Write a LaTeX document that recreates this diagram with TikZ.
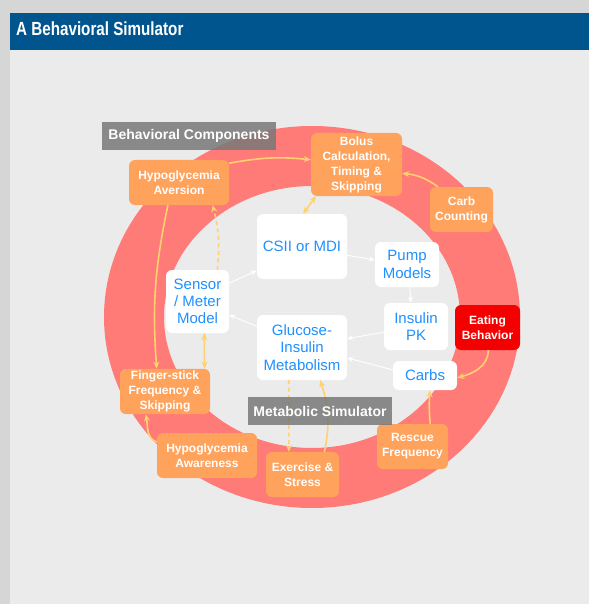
\documentclass[tikz,border=0pt]{standalone}
\usepackage{fontspec}
\setmainfont{Liberation Sans}
\newfontfamily\headfont[FakeStretch=0.8]{Liberation Sans}
\usepackage{tikz}
\usetikzlibrary{arrows.meta}
\definecolor{page}{HTML}{D6D6D6}
\definecolor{panel}{HTML}{EBEBEB}
\definecolor{banner}{HTML}{00558F}
\definecolor{ring}{HTML}{FF7B77}
\definecolor{behav}{HTML}{FFA25C}
\definecolor{eatred}{HTML}{F50000}
\definecolor{simtext}{HTML}{1E90FF}
\definecolor{link}{HTML}{FFD170}
\definecolor{tagfill}{HTML}{787878}

\begin{document}
\begin{tikzpicture}[x=1pt,y=-1pt,
  beh/.style={rectangle,rounded corners=6pt,fill=behav,text=white,align=center,
    inner sep=2pt,font=\bfseries\fontsize{12}{15}\selectfont},
  sim/.style={rectangle,rounded corners=6pt,fill=white,text=simtext,align=center,
    inner sep=2pt,font=\fontsize{15}{17.3}\selectfont},
  tag/.style={rectangle,fill=tagfill,fill opacity=0.85,text opacity=1,text=white,
    inner sep=0pt,font=\bfseries\fontsize{14}{16}\selectfont},
  arr/.style={-{Stealth[length=6pt,width=5pt]},white,line width=0.9pt},
  yarr/.style={-{Stealth[length=7pt,width=6pt]},link,line width=1.6pt},
  ydbl/.style={yarr,{Stealth[length=7pt,width=6pt]}-{Stealth[length=7pt,width=6pt]}},
  darr/.style={yarr,dash pattern=on 4pt off 3.5pt}]

% page, panel and title bar
\fill[page] (0,0) rectangle (589,604);
\fill[panel] (10,50) rectangle (589,604);
\fill[banner] (10,13) rectangle (589,50);
\node[anchor=base west,inner sep=0pt,text=white,font=\headfont\bfseries\fontsize{19}{20}\selectfont]
  (ttl) at (16,35.3) {A Behavioral Simulator};

% behaviour ring
\draw[ring,line width=60pt] (312,317) ellipse [x radius=178,y radius=161];

% behavioural components
\node[beh,minimum width=91,minimum height=63] (bol) at (356.5,164.5) {Bolus\\Calculation,\\Timing \&\\Skipping};
\node[beh,minimum width=100,minimum height=45] (avr) at (179,182.5) {Hypoglycemia\\Aversion};
\node[beh,minimum width=63,minimum height=45] (cnt) at (461.5,209.5) {Carb\\Counting};
\node[beh,fill=eatred,minimum width=65,minimum height=45] (eat) at (487.5,327.5) {Eating\\Behavior};
\node[beh,minimum width=71,minimum height=45] (res) at (412.5,446.5) {Rescue\\Frequency};
\node[beh,minimum width=73,minimum height=45] (exe) at (302.5,474.5) {Exercise \&\\Stress};
\node[beh,minimum width=100,minimum height=45] (awr) at (207,455.5) {Hypoglycemia\\Awareness};
\node[beh,minimum width=90,minimum height=45] (fng) at (165,391.5) {Finger-stick\\Frequency \&\\Skipping};

% metabolic simulator
\node[sim,minimum width=90,minimum height=65] (csi) at (302,246.5) {CSII or MDI};
\node[sim,minimum width=64,minimum height=45] (pmp) at (407,264.5) {Pump\\Models};
\node[sim,minimum width=64,minimum height=47] (ipk) at (416,326.5) {Insulin\\PK};
\node[sim,minimum width=64,minimum height=29] (crb) at (425,375.5) {Carbs};
\node[sim,minimum width=90,minimum height=65] (glu) at (302,347.5) {Glucose-\\Insulin\\Metabolism};
\node[sim,minimum width=63,minimum height=63] (sen) at (197.5,301.5) {Sensor\\/ Meter\\Model};

\draw[yarr] (avr.21) to[bend left=8] (bol.174);
\draw[yarr] (cnt.136) to[bend right=15] (bol.-11);
\draw[ydbl] (bol.218) -- (csi.88);
\draw[yarr] (avr.244) to[bend right=8] (fng.110);
\draw[ydbl] (sen.-78) -- (fng.30);
\draw[darr] (sen.58) to[bend right=10] (avr.-34);
\draw[yarr] (awr.165) to[out=160,in=-80] (fng.230);
\draw[darr] (glu.248) -- (exe.121);
\draw[yarr] (exe.46) to[bend right=15] (glu.-61);
\draw[yarr] (res.52) to[bend left=5] (crb.-71);
\draw[yarr] (eat.-88) to[out=-90,in=15] (crb.-4);

\draw[arr] (sen.30) -- (csi.208);
\draw[arr] (glu.155) -- (sen.-23);
\draw[arr] (csi.-11) -- (pmp.172);
\draw[arr] (pmp.-83) -- (ipk.102);
\draw[arr] (ipk.190) -- (glu.11);
\draw[arr] (crb.170) -- (glu.-13);

\node[tag,minimum width=174,minimum height=28] (bc) at (189,136) {Behavioral Components};
\node[tag,minimum width=144,minimum height=28] (ms) at (320,411) {Metabolic Simulator};
\end{tikzpicture}
\end{document}
